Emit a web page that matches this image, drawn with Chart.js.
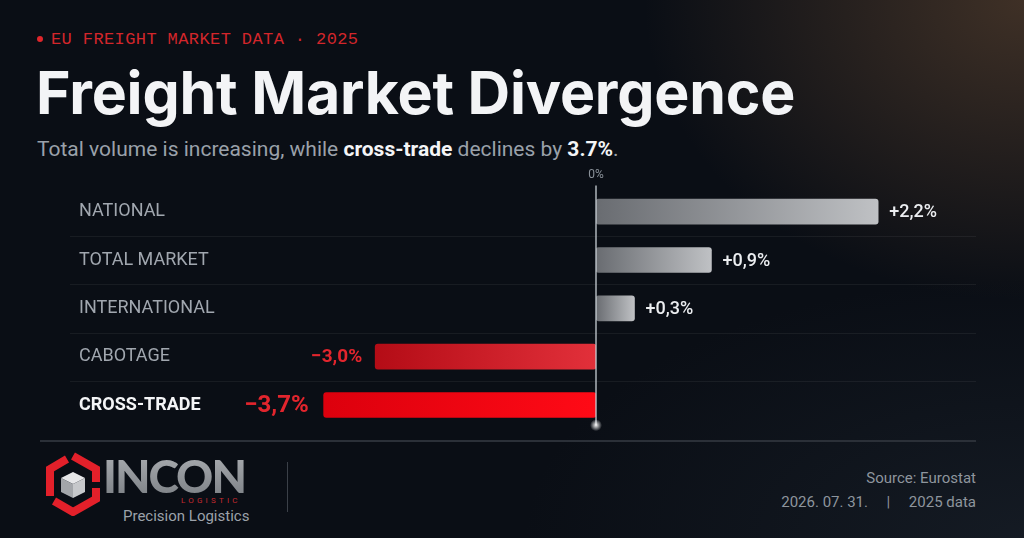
<!DOCTYPE html>
<html>
<head>
<meta charset="utf-8">
<script src="https://cdn.jsdelivr.net/npm/chart.js@4.4.1/dist/chart.umd.min.js"></script>
<style>
  html, body { margin:0; padding:0; width:1024px; height:538px; overflow:hidden; }
  body {
    position:relative;
    font-family: Roboto, "Noto Sans", sans-serif;
    background:
      radial-gradient(ellipse 380px 300px at 100% 0%, rgba(115,82,55,0.5), rgba(115,82,55,0) 100%),
      radial-gradient(ellipse 500px 260px at 100% 100%, rgba(40,50,62,0.35), rgba(40,50,62,0) 100%),
      #0a0e15;
  }
  .eyebrow { position:absolute; left:30px; top:30px; font-family:"Liberation Mono","DejaVu Sans Mono",monospace;
    font-size:17px; letter-spacing:0.4px; color:#d3262b; white-space:nowrap; }
  .eyebrow .dot { display:inline-block; width:6px; height:6px; border-radius:50%; background:#e0262b; margin:0 8px 2px 7px; vertical-align:middle; }
  h1 { position:absolute; left:36px; top:63px; margin:0; font-family:Inter, Roboto, sans-serif; font-weight:700;
    font-size:59px; letter-spacing:-0.2px; color:#f3f4f6; white-space:nowrap; line-height:1; }
  .sub { position:absolute; left:37px; top:137px; margin:0; font-size:21px; color:#9aa1aa; white-space:nowrap; }
  .sub b { color:#f4f5f7; font-weight:700; }
  #chartWrap { position:absolute; left:0; top:160px; width:1024px; height:280px; }
  .rule { position:absolute; left:40px; top:440px; width:936px; height:1.5px; background:#2b3038; }
  .vdiv { position:absolute; left:287px; top:462px; width:1px; height:50px; background:#3b4048; }
  .logo { position:absolute; left:44px; top:452px; }
  .incon { position:absolute; left:103px; top:453px; font-family:Lato, "Open Sans", sans-serif; font-weight:900; font-size:46px;
    letter-spacing:-2px; line-height:1; background:linear-gradient(180deg,#a9acb0,#7c8085); -webkit-background-clip:text; background-clip:text; color:transparent; }
  .logistic { position:absolute; left:181px; top:496px; font-size:8px; letter-spacing:3.2px; color:#c42a2f; font-family:Roboto, sans-serif; }
  .tagline { position:absolute; left:123px; top:507px; font-size:15px; color:#9ca2aa; }
  .src { position:absolute; right:48px; top:466px; font-size:15px; color:#8e959d; text-align:right; line-height:24px; white-space:pre; }
</style>
</head>
<body>
  <div class="eyebrow"><span class="dot"></span>EU FREIGHT MARKET DATA · 2025</div>
  <h1>Freight Market Divergence</h1>
  <p class="sub">Total volume is increasing, while <b>cross-trade</b> declines by <b>3.7%</b>.</p>
  <div id="chartWrap"><canvas id="c" width="1024" height="280"></canvas></div>
  <div class="rule"></div>
  <svg class="logo" width="58" height="64" viewBox="0 0 58 64">
    <path d="M29 4 L52 17 L52 30" fill="none" stroke="#e3202a" stroke-width="8" stroke-linejoin="miter"/>
    <path d="M52 36 L52 47 L29 60 L10 49" fill="none" stroke="#e3202a" stroke-width="8" stroke-linejoin="miter"/>
    <path d="M6 44 L6 17 L23 7" fill="none" stroke="#e3202a" stroke-width="8" stroke-linejoin="miter"/>
    <polygon points="29,20 41,26 29,32 17,26" fill="#e6e7e9"/>
    <polygon points="17,26 29,32 29,46 17,40" fill="#a3a6aa"/>
    <polygon points="41,26 29,32 29,46 41,40" fill="#c6c8cb"/>
  </svg>
  <div class="incon">INCON</div>
  <div class="logistic">LOGISTIC</div>
  <div class="tagline">Precision Logistics</div>
  <div class="vdiv"></div>
  <div class="src">Source: Eurostat
2026. 07. 31.     |     2025 data</div>

<script>
// ---- data ----
const categories = ['NATIONAL', 'TOTAL MARKET', 'INTERNATIONAL', 'CABOTAGE', 'CROSS-TRADE'];
const changes = [2.2, 0.9, 0.3, -3.0, -3.7];
const highlightCategory = 'CROSS-TRADE';
const zeroLabel = '0%';

const fmt = v => (v < 0 ? '\u2212' : '+') + Math.abs(v).toFixed(1).replace('.', ',') + '%';

function barFill(ctx) {
  if (ctx.type !== 'data' || ctx.raw == null) return '#888';
  const chart = ctx.chart, v = ctx.raw;
  const s = chart.scales[v < 0 ? 'xNeg' : 'xPos'];
  const x0 = s.getPixelForValue(0), x1 = s.getPixelForValue(v);
  if (!isFinite(x0) || !isFinite(x1) || x0 === x1) return v < 0 ? '#d8141c' : '#9a9da1';
  const g = chart.ctx.createLinearGradient(Math.min(x0, x1), 0, Math.max(x0, x1), 0);
  if (v >= 0) {
    g.addColorStop(0, '#696c71'); g.addColorStop(1, '#bfc1c4');
  } else if (categories[ctx.dataIndex] === highlightCategory) {
    g.addColorStop(0, '#dc000d'); g.addColorStop(1, '#ff0a16');
  } else {
    g.addColorStop(0, '#b40c16'); g.addColorStop(1, '#e2303a');
  }
  return g;
}

const overlay = {
  id: 'overlay',
  beforeDatasetsDraw(chart) {
    const { ctx, scales } = chart;
    const y = scales.y;
    ctx.save();
    ctx.strokeStyle = 'rgba(255,255,255,0.06)';
    ctx.lineWidth = 1;
    for (let i = 0; i < categories.length - 1; i++) {
      const yy = Math.round((y.getPixelForValue(i) + y.getPixelForValue(i + 1)) / 2) + 0.5;
      ctx.beginPath(); ctx.moveTo(70, yy); ctx.lineTo(976, yy); ctx.stroke();
    }
    ctx.restore();
  },
  afterDatasetsDraw(chart) {
    const { ctx, chartArea, scales } = chart;
    const x0 = scales.xPos.getPixelForValue(0);
    ctx.save();
    const bottom = chartArea.bottom - 4;
    ctx.strokeStyle = 'rgba(205,210,216,0.85)';
    ctx.lineWidth = 1.5;
    ctx.beginPath(); ctx.moveTo(x0, chartArea.top - 2); ctx.lineTo(x0, bottom); ctx.stroke();
    const glow = ctx.createRadialGradient(x0, bottom, 0, x0, bottom, 6);
    glow.addColorStop(0, 'rgba(255,255,255,0.95)'); glow.addColorStop(1, 'rgba(255,255,255,0)');
    ctx.fillStyle = glow; ctx.beginPath(); ctx.arc(x0, bottom, 6, 0, Math.PI * 2); ctx.fill();
    ctx.fillStyle = '#8b929a';
    ctx.font = '12px Roboto';
    ctx.textAlign = 'center'; ctx.textBaseline = 'middle';
    ctx.fillText(zeroLabel, x0, chartArea.top - 13);
    chart.data.datasets.forEach((ds, di) => {
      const meta = chart.getDatasetMeta(di);
      meta.data.forEach((el, i) => {
        const v = ds.data[i];
        if (v == null) return;
        const { x, y } = el.getProps(['x', 'y'], true);
        ctx.textBaseline = 'middle';
        if (v >= 0) {
          ctx.fillStyle = '#eceef1';
          ctx.font = '500 18px Roboto';
          ctx.textAlign = 'left';
          ctx.fillText(fmt(v), x + 11, y + 1);
        } else {
          const hl = categories[i] === highlightCategory;
          ctx.fillStyle = '#e2252d';
          ctx.font = hl ? '700 24px Roboto' : '700 19px Roboto';
          ctx.textAlign = 'right';
          ctx.fillText(fmt(v), x - (hl ? 15 : 13), y + 1);
        }
      });
    });
    ctx.restore();
  }
};

new Chart(document.getElementById('c'), {
  type: 'bar',
  data: {
    labels: categories,
    datasets: [
      {
        label: 'Growth',
        data: changes.map(v => (v >= 0 ? v : null)),
        xAxisID: 'xPos', yAxisID: 'y',
        backgroundColor: barFill,
        borderRadius: 3, borderSkipped: false,
        barThickness: 25, grouped: false
      },
      {
        label: 'Decline',
        data: changes.map(v => (v < 0 ? v : null)),
        xAxisID: 'xNeg', yAxisID: 'y',
        backgroundColor: barFill,
        borderRadius: 3, borderSkipped: false,
        barThickness: 25, grouped: false
      }
    ]
  },
  options: {
    indexAxis: 'y',
    responsive: false,
    animation: false,
    devicePixelRatio: 1,
    layout: { padding: { left: 79, right: 24, top: 27.5, bottom: 8 } },
    plugins: { legend: { display: false }, tooltip: { enabled: false } },
    scales: {
      xNeg: { type: 'linear', position: 'bottom', stack: 'x', stackWeight: 357, min: -4.85, max: 0, display: false },
      xPos: { type: 'linear', position: 'bottom', stack: 'x', stackWeight: 404, min: 0, max: 3.15, display: false },
      y: {
        type: 'category', position: 'left', offset: true,
        grid: { display: false }, border: { display: false },
        afterFit(s) { s.width = 160; },
        ticks: {
          crossAlign: 'far', padding: 0,
          color: c => (categories[c.index] === highlightCategory ? '#f4f5f7' : '#a1a7af'),
          font: c => (categories[c.index] === highlightCategory
            ? { family: 'Roboto', size: 18, weight: 'bold' }
            : { family: 'Roboto', size: 18, weight: 'normal' })
        }
      }
    }
  },
  plugins: [overlay]
});
</script>
</body>
</html>
